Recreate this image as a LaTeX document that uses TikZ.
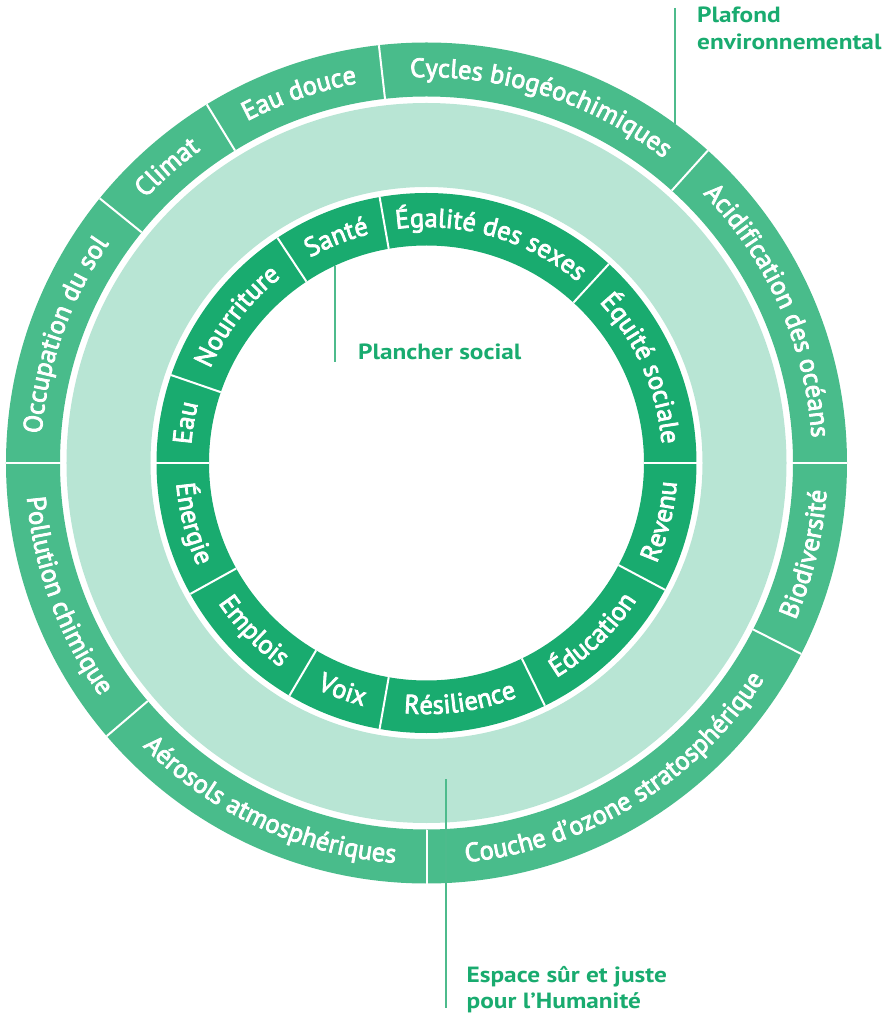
\documentclass[tikz,border=0pt]{standalone}
\usepackage{fontspec}
\setmainfont{PT Sans}
\newfontfamily\ringfamily[FakeBold=3]{PT Sans}
\newfontfamily\calloutfamily[FakeStretch=1.15]{PT Sans}
\usetikzlibrary{decorations.text, positioning}
\definecolor{ringouter}{HTML}{49BC8B}
\definecolor{ringinner}{HTML}{19AB6F}
\definecolor{safeband}{HTML}{B8E5D4}
\definecolor{calloutline}{HTML}{4DBB8C}
\newcommand{\ringfont}{\ringfamily\fontsize{26.5}{30}\selectfont}
\newcommand{\calloutfont}{\calloutfamily\fontsize{22}{27}\selectfont\bfseries}
\newcommand{\espacefont}{\calloutfamily\fontsize{22}{26}\selectfont\bfseries}
\tikzset{divider/.style={draw=white, line width=2pt}}
\tikzset{ringlabel/.style={decorate, decoration={text along path, text align=center}}}
\tikzset{callout/.style={draw=calloutline, line width=1.6pt}}
\tikzset{callouttext/.style={text=ringinner, font=\calloutfont, align=left, inner sep=0pt}}
% start angle, end angle, baseline radius, text
\newcommand{\ringtext}[4]{\path[ringlabel, decoration={text={|\color{white}\ringfont|#4}}] (#1:#3) arc[start angle=#1, end angle=#2, radius=#3pt];}

\begin{document}
\begin{tikzpicture}[x=1pt, y=1pt]
    \useasboundingbox (-426.5,-551) rectangle (466.5,463);

    % rings
    \fill[ringouter, even odd rule] (0,0) circle[radius=420.5pt] (0,0) circle[radius=366.5pt];
    \fill[safeband, even odd rule] (0,0) circle[radius=360pt] (0,0) circle[radius=276pt];
    \fill[ringinner, even odd rule] (0,0) circle[radius=270pt] (0,0) circle[radius=217.5pt];

    \foreach \a in {180,141,121.5,96.5,48,0,-27,-90,-139.5}
        \draw[divider] (\a:366.5) -- (\a:420.5);
    \foreach \a in {180,161,123.5,100,47.5,0,-28,-64,-100,-120.5,-151}
        \draw[divider] (\a:217.5) -- (\a:270);

    % environmental ceiling
    \ringtext{180}{141}{386}{Occupation du sol}
    \ringtext{141}{121.5}{386}{Climat}
    \ringtext{121.5}{96.5}{386}{Eau douce}
    \ringtext{96.5}{48}{386}{Cycles biogéochimiques}
    \ringtext{48}{0}{386}{Acidification des océans}
    \ringtext{-27}{0}{401}{Biodiversité}
    \ringtext{-90}{-27}{401}{Couche d’ozone stratosphérique}
    \ringtext{-139.5}{-90}{401}{Aérosols atmosphériques}
    \ringtext{-180}{-139.5}{401}{Pollution chimique}

    % social foundation
    \ringtext{180}{161}{236}{Eau}
    \ringtext{161}{123.5}{236}{Nourriture}
    \ringtext{123.5}{100}{236}{Santé}
    \ringtext{100}{47.5}{236}{Égalité des sexes}
    \ringtext{47.5}{0}{236}{Équité sociale}
    \ringtext{-28}{0}{251}{Revenu}
    \ringtext{-64}{-28}{251}{Éducation}
    \ringtext{-100}{-64}{251}{Résilience}
    \ringtext{-120.5}{-100}{251}{Voix}
    \ringtext{-151}{-120.5}{251}{Emplois}
    \ringtext{-180}{-151}{251}{Énergie}

    % callouts
    \coordinate (plafondtop) at (248.5,455);
    \coordinate (plafondfoot) at (248.5,339.2);
    \draw[callout] (plafondtop) -- (plafondfoot);
    \node[callouttext, anchor=north west] (plafond) at (270.5,456) {Plafond\\environnemental};

    \coordinate (plancherfoot) at (-91.5,197.3);
    \coordinate (planchertip) at (-91.5,101);
    \draw[callout] (plancherfoot) -- (planchertip);
    \node[callouttext, anchor=base west] (plancher) at (-68.5,103) {Plancher social};

    \coordinate (espacetop) at (19.5,-316);
    \coordinate (espacefoot) at (19.5,-545);
    \draw[callout] (espacetop) -- (espacefoot);
    \node[callouttext, anchor=north west, font=\espacefont] (espace) at (40,-503) {Espace sûr et juste\\pour l’Humanité};
\end{tikzpicture}
\end{document}
